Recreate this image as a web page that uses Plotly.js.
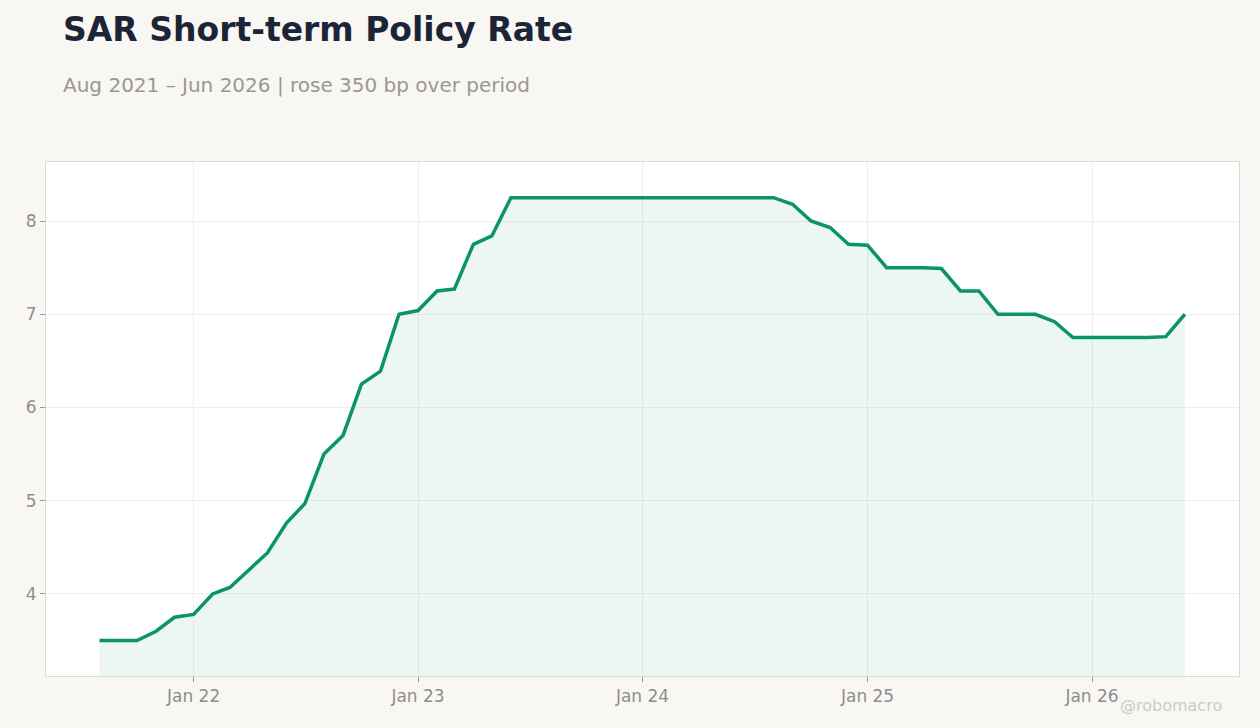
<!DOCTYPE html>
<html>
<head>
<meta charset="utf-8">
<script src="https://cdn.plot.ly/plotly-3.0.1.min.js"></script>
<style>
  html, body { margin: 0; padding: 0; background: #f8f7f4; }
  #chart { width: 1260px; height: 728px; }
</style>
</head>
<body>
<div id="chart"></div>
<script>
// SAR policy rate, monthly

var months = [
  "2021-08-01", "2021-09-01", "2021-10-01", "2021-11-01", "2021-12-01",
  "2022-01-01", "2022-02-01", "2022-03-01", "2022-04-01", "2022-05-01", "2022-06-01",
  "2022-07-01", "2022-08-01", "2022-09-01", "2022-10-01", "2022-11-01", "2022-12-01",
  "2023-01-01", "2023-02-01", "2023-03-01", "2023-04-01", "2023-05-01", "2023-06-01",
  "2023-07-01", "2023-08-01", "2023-09-01", "2023-10-01", "2023-11-01", "2023-12-01",
  "2024-01-01", "2024-02-01", "2024-03-01", "2024-04-01", "2024-05-01", "2024-06-01",
  "2024-07-01", "2024-08-01", "2024-09-01", "2024-10-01", "2024-11-01", "2024-12-01",
  "2025-01-01", "2025-02-01", "2025-03-01", "2025-04-01", "2025-05-01", "2025-06-01",
  "2025-07-01", "2025-08-01", "2025-09-01", "2025-10-01", "2025-11-01", "2025-12-01",
  "2026-01-01", "2026-02-01", "2026-03-01", "2026-04-01", "2026-05-01", "2026-06-01"
];

var rate = [
  3.50, 3.50, 3.50, 3.60, 3.75,
  3.78, 4.00, 4.07, 4.26, 4.44, 4.76,
  4.97, 5.50, 5.70, 6.25, 6.39, 7.00,
  7.04, 7.25, 7.27, 7.75, 7.84, 8.25,
  8.25, 8.25, 8.25, 8.25, 8.25, 8.25,
  8.25, 8.25, 8.25, 8.25, 8.25, 8.25,
  8.25, 8.25, 8.18, 8.00, 7.93, 7.75,
  7.74, 7.50, 7.50, 7.50, 7.49, 7.25,
  7.25, 7.00, 7.00, 7.00, 6.92, 6.75,
  6.75, 6.75, 6.75, 6.75, 6.76, 7.00
];

var titleText = "SAR Short-term Policy Rate";
var subtitleText = "Aug 2021 \u2013 Jun 2026 | rose 350 bp over period";

var font = "DejaVu Sans, sans-serif";

var trace = {
  type: "scatter",
  mode: "lines",
  x: months,
  y: rate,
  fill: "tozeroy",
  fillcolor: "rgba(10,148,103,0.08)",
  line: {color: "#0a9467", width: 3.5},
  hoverinfo: "x+y",
};

var layout = {
  width: 1260,
  height: 728,
  paper_bgcolor: "#f8f7f4",
  plot_bgcolor: "#ffffff",
  margin: {l: 46, r: 21, t: 162, b: 52},
  font: {family: font, color: "#8f8d8a", size: 17},
  showlegend: false,
  title: {
    text: "<b>" + titleText + "</b>",
    font: {family: font, size: 33, color: "#1c2536"},
    xref: "container", yref: "container",
    x: 63 / 1260, xanchor: "left",
    y: 1 - 29 / 728, yanchor: "middle",
  },
  xaxis: {
    type: "date",
    range: ["2021-05-06", "2026-08-28"],
    tick0: "2022-01-01",
    dtick: "M12",
    tickformat: "%b %y",
    showgrid: true,
    gridcolor: "#eeeeee",
    ticks: "outside",
    ticklen: 5,
    tickcolor: "#999999",
    showline: true,
    linecolor: "#dddad4",
    mirror: true,
    zeroline: false,
    tickfont: {size: 17, color: "#8f8d8a"},
  },
  yaxis: {
    range: [3.12, 8.633],
    dtick: 1,
    showgrid: true,
    gridcolor: "#eeeeee",
    ticks: "outside",
    ticklen: 5,
    tickcolor: "#999999",
    showline: true,
    linecolor: "#dddad4",
    mirror: true,
    zeroline: false,
    tickfont: {size: 17, color: "#8f8d8a"},
  },
  annotations: [
    {
      text: subtitleText,
      xref: "paper", yref: "paper",
      x: (61 - 46) / 1193, xanchor: "left",
      y: 1 + (162 - 85) / 514, yanchor: "middle",
      showarrow: false,
      font: {family: font, size: 20, color: "#9a9893"},
    },
    {
      text: "@robomacro",
      xref: "paper", yref: "paper",
      x: (1224 - 46) / 1193, xanchor: "right",
      y: -(705 - 676) / 514, yanchor: "middle",
      showarrow: false,
      font: {family: font, size: 16, color: "#cccccc"},
    },
  ],
};

Plotly.newPlot("chart", [trace], layout, {displayModeBar: false});
</script>
</body>
</html>
